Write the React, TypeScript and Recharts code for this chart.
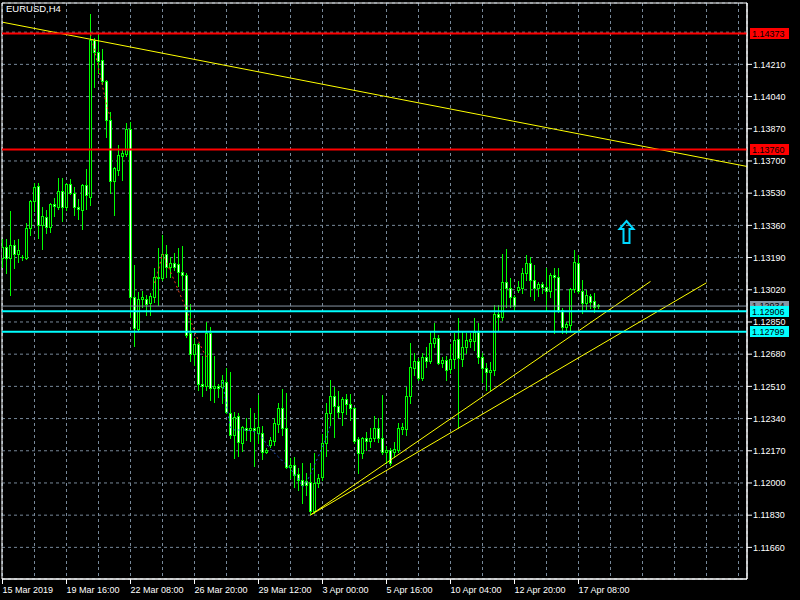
import React from 'react';
import {
  ComposedChart,
  Bar,
  Line,
  XAxis,
  YAxis,
  CartesianGrid,
  ReferenceLine,
  ReferenceDot,
  ReferenceArea,
} from 'recharts';

const FONT = '"Liberation Sans", Arial, sans-serif';

const opens = [
  1.13188, 1.13246, 1.13188, 1.13256, 1.13209, 1.13193, 1.13188, 1.13346, 1.13489, 1.13568,
  1.13362, 1.13404, 1.13351, 1.13472, 1.13457, 1.13542, 1.13457, 1.13578, 1.13531, 1.13457,
  1.13441, 1.13573, 1.1351, 1.14339, 1.14275, 1.14233, 1.14123, 1.13916, 1.13594, 1.13652,
  1.13726, 1.13737, 1.13869, 1.12982, 1.12813, 1.12971, 1.12971, 1.1295, 1.12982, 1.13088,
  1.13082, 1.13209, 1.1314, 1.13161, 1.13156, 1.13114, 1.13098, 1.12792, 1.12681, 1.12734,
  1.12525, 1.12514, 1.12792, 1.12501, 1.12514, 1.12507, 1.12533, 1.12369, 1.12253, 1.12353,
  1.12211, 1.12291, 1.1228, 1.12291, 1.12264, 1.12264, 1.12164, 1.122, 1.12222, 1.12311,
  1.12398, 1.12291, 1.12084, 1.12095, 1.12047, 1.12016, 1.1201, 1.12005, 1.11852, 1.12,
  1.12031, 1.12211, 1.12369, 1.12459, 1.12406, 1.12375, 1.12443, 1.12417, 1.12396, 1.12232,
  1.12159, 1.12238, 1.12222, 1.12238, 1.12291, 1.12238, 1.12164, 1.12174, 1.12164, 1.12174,
  1.12285, 1.12285, 1.12459, 1.12607, 1.12644, 1.12554, 1.12665, 1.12644, 1.12739, 1.12766,
  1.12634, 1.1265, 1.12602, 1.12655, 1.1276, 1.12655, 1.12718, 1.12749, 1.12749, 1.12797,
  1.12665, 1.12607, 1.12586, 1.12596, 1.12892, 1.12876, 1.13061, 1.13029, 1.12982, 1.13019,
  1.1303, 1.13109, 1.13161, 1.13072, 1.13029, 1.1305, 1.13035, 1.13014, 1.13098, 1.13088,
  1.12913, 1.12823, 1.12834, 1.13024, 1.13161, 1.13014, 1.1295, 1.12987, 1.12961, 1.12939,
];
const highs = [
  1.13288, 1.13288, 1.13436, 1.13283, 1.13288, 1.13204, 1.13372, 1.13494, 1.13584, 1.13584,
  1.13457, 1.13441, 1.13478, 1.13505, 1.1361, 1.1361, 1.13584, 1.13605, 1.13563, 1.13499,
  1.13578, 1.13658, 1.14476, 1.14349, 1.14365, 1.14291, 1.14128, 1.13959, 1.13668, 1.13784,
  1.13763, 1.13901, 1.13906, 1.13151, 1.13008, 1.13014, 1.12992, 1.13003, 1.13135, 1.13241,
  1.13309, 1.13256, 1.13193, 1.13214, 1.13241, 1.13251, 1.13109, 1.12945, 1.12766, 1.12739,
  1.1267, 1.12848, 1.12823, 1.1267, 1.1252, 1.1257, 1.12607, 1.12586, 1.12375, 1.12369,
  1.123, 1.12343, 1.12398, 1.12371, 1.12464, 1.12301, 1.12185, 1.12243, 1.12343, 1.12424,
  1.12496, 1.12475, 1.12132, 1.12137, 1.12079, 1.12106, 1.12052, 1.12106, 1.12159, 1.12047,
  1.12259, 1.12422, 1.12544, 1.12507, 1.12486, 1.12454, 1.1247, 1.1247, 1.12401, 1.12243,
  1.12243, 1.12269, 1.12291, 1.12353, 1.12343, 1.12464, 1.12195, 1.12185, 1.12217, 1.12317,
  1.12317, 1.12507, 1.12739, 1.12686, 1.1266, 1.12686, 1.12718, 1.12797, 1.12845, 1.12781,
  1.12665, 1.1267, 1.12734, 1.12792, 1.12871, 1.12797, 1.12792, 1.12792, 1.12871, 1.12845,
  1.12686, 1.12634, 1.12639, 1.1294, 1.1294, 1.13209, 1.13235, 1.13082, 1.12992, 1.13066,
  1.13135, 1.13204, 1.13193, 1.13151, 1.13061, 1.13061, 1.13135, 1.13109, 1.13135, 1.13135,
  1.12924, 1.12848, 1.13029, 1.1323, 1.13204, 1.13072, 1.13019, 1.12997, 1.13003, 1.12945,
];
const lows = [
  1.1314, 1.13109, 1.12992, 1.13135, 1.13167, 1.13177, 1.13185, 1.13309, 1.13434, 1.13293,
  1.13235, 1.1332, 1.13325, 1.1341, 1.13446, 1.13383, 1.13441, 1.13525, 1.13415, 1.13393,
  1.13341, 1.13446, 1.13468, 1.14091, 1.14165, 1.14107, 1.13827, 1.13531, 1.13415, 1.13626,
  1.136, 1.13727, 1.12876, 1.12723, 1.12808, 1.12929, 1.12887, 1.12887, 1.12955, 1.1294,
  1.13072, 1.13088, 1.13088, 1.13124, 1.1304, 1.13019, 1.12771, 1.12644, 1.12623, 1.12491,
  1.12459, 1.12491, 1.12438, 1.12428, 1.12454, 1.12422, 1.12369, 1.12238, 1.12132, 1.12142,
  1.12168, 1.12227, 1.12222, 1.12089, 1.12211, 1.12127, 1.12159, 1.1219, 1.122, 1.12269,
  1.12253, 1.1208, 1.12026, 1.11979, 1.11963, 1.11892, 1.11936, 1.11835, 1.11841, 1.11979,
  1.12016, 1.12142, 1.12306, 1.12243, 1.12348, 1.12306, 1.12364, 1.12332, 1.12211, 1.12052,
  1.12132, 1.12174, 1.1219, 1.12222, 1.12217, 1.12153, 1.12106, 1.12095, 1.12137, 1.12164,
  1.12259, 1.12253, 1.12422, 1.1257, 1.12544, 1.12544, 1.12612, 1.12634, 1.12718, 1.1263,
  1.12612, 1.12544, 1.12581, 1.12607, 1.12291, 1.12617, 1.12686, 1.12718, 1.12702, 1.12634,
  1.12533, 1.12491, 1.12491, 1.1257, 1.12802, 1.1286, 1.12929, 1.12929, 1.12913, 1.13008,
  1.13003, 1.13072, 1.12987, 1.12966, 1.12987, 1.13003, 1.12913, 1.12982, 1.12792, 1.12903,
  1.12792, 1.12792, 1.12808, 1.13008, 1.13003, 1.12897, 1.12918, 1.12924, 1.12903, 1.12924,
];
const closes = [
  1.13246, 1.13188, 1.13256, 1.13209, 1.1323, 1.13195, 1.13346, 1.13489, 1.13563, 1.13362,
  1.1341, 1.13351, 1.13472, 1.13462, 1.13542, 1.13457, 1.13578, 1.13531, 1.13457, 1.13446,
  1.13573, 1.1352, 1.14339, 1.14275, 1.14228, 1.14123, 1.13916, 1.13594, 1.13663, 1.13732,
  1.13742, 1.13869, 1.12982, 1.12818, 1.12971, 1.12982, 1.12945, 1.12987, 1.13088, 1.13082,
  1.13209, 1.1314, 1.13161, 1.1314, 1.13114, 1.13098, 1.12781, 1.12681, 1.12734, 1.12525,
  1.12514, 1.12792, 1.12501, 1.12514, 1.12501, 1.12544, 1.12375, 1.12253, 1.12348, 1.12217,
  1.12296, 1.1228, 1.12291, 1.1228, 1.12296, 1.12164, 1.12174, 1.12227, 1.12317, 1.12398,
  1.12291, 1.12084, 1.12095, 1.12042, 1.12016, 1.11989, 1.11989, 1.11852, 1.12, 1.12026,
  1.12211, 1.12369, 1.12459, 1.12406, 1.12375, 1.12443, 1.12417, 1.12396, 1.12222, 1.12159,
  1.12238, 1.12222, 1.12238, 1.12291, 1.12238, 1.12164, 1.12174, 1.12106, 1.12179, 1.12291,
  1.12296, 1.12459, 1.12612, 1.12644, 1.12554, 1.12665, 1.12644, 1.12739, 1.12766, 1.12634,
  1.1265, 1.12596, 1.12655, 1.12755, 1.1266, 1.12718, 1.12755, 1.1276, 1.12797, 1.12665,
  1.12607, 1.12586, 1.12596, 1.12892, 1.12876, 1.13061, 1.13029, 1.12982, 1.12934, 1.13035,
  1.13109, 1.13161, 1.13072, 1.13029, 1.1305, 1.13035, 1.13014, 1.13098, 1.13088, 1.12913,
  1.12823, 1.12839, 1.13024, 1.13167, 1.13014, 1.1295, 1.12992, 1.12955, 1.12929, 1.12934,
];

// dotted indicator segments
const redIndicator: [number, number][] = [
  [22, 1.1437], [23, 1.14286], [24, 1.14191], [25, 1.14096], [26, 1.13996], [27, 1.13927],
];
const redIndicator2: [number, number][] = [
  [38, 1.13056], [39, 1.13124], [40, 1.13209], [41, 1.13167], [42, 1.13114], [43, 1.13066],
  [44, 1.13014], [45, 1.12966], [46, 1.12913], [47, 1.1286], [48, 1.12802], [49, 1.1275],
  [50, 1.12702], [51, 1.12665],
];
const blueIndicator: [number, number][] = [
  [55, 1.12533], [56, 1.12412], [57, 1.1229], [58, 1.1228], [59, 1.1228], [60, 1.1228],
  [61, 1.1228], [62, 1.12275], [63, 1.1227], [64, 1.12259], [65, 1.12237], [66, 1.12206],
  [67, 1.12179], [68, 1.12158], [69, 1.12137], [70, 1.12116], [71, 1.12095], [72, 1.12074],
  [73, 1.12047], [74, 1.12021], [75, 1.11979], [76, 1.12005], [77, 1.12047], [78, 1.12095],
  [79, 1.12142], [80, 1.1219], [81, 1.12243], [82, 1.12306],
];

const xTicks = [0, 8, 16, 24, 32, 40, 48, 56, 64, 72, 80, 88, 96, 104, 112, 120, 128, 136, 144, 152, 160, 168, 176, 184];
const xTickLabels = [
  '15 Mar 2019', '19 Mar 16:00', '22 Mar 08:00', '26 Mar 20:00', '29 Mar 12:00',
  '3 Apr 00:00', '5 Apr 16:00', '10 Apr 04:00', '12 Apr 20:00', '17 Apr 08:00',
];
const yTicks = [
  1.1166, 1.1183, 1.12, 1.1217, 1.1234, 1.1251, 1.1268, 1.1285,
  1.1302, 1.1319, 1.1336, 1.1353, 1.137, 1.1387, 1.1404, 1.1421,
];
const topGridPrice = 1.1438;

const redLevels = [1.14373, 1.1376];
const cyanLevels = [1.12906, 1.12799];
const bidLevel = 1.12934;

const downTrend = [{ x: 0.125, y: 1.14432 }, { x: 186.125, y: 1.13671 }];
const upTrend1 = [{ x: 77, y: 1.11831 }, { x: 162, y: 1.13064 }];
const upTrend2 = [{ x: 77, y: 1.11831 }, { x: 176, y: 1.13057 }];
const arrowPoint = { x: 156, y: 1.13325 };

const X_DOMAIN: [number, number] = [-0.125, 186.125];
const Y_DOMAIN: [number, number] = [1.11493, 1.14534];

const toMap = (pairs: [number, number][]) => new Map(pairs.map(([k, v]) => [k, v]));
const redMap = toMap(redIndicator);
const redMap2 = toMap(redIndicator2);
const blueMap = toMap(blueIndicator);

const data = opens.map((o, i) => ({
  i,
  o,
  h: highs[i],
  l: lows[i],
  c: closes[i],
  range: [lows[i], highs[i]],
  red: redMap.has(i) ? redMap.get(i) : null,
  red2: redMap2.has(i) ? redMap2.get(i) : null,
  blue: blueMap.has(i) ? blueMap.get(i) : null,
}));

const Candle = (props: any) => {
  const { x, y, width, height, payload } = props;
  if (x == null || y == null || !payload) return null;
  const { o, h, l, c } = payload;
  const top = Math.min(y, y + height);
  const bottom = Math.max(y, y + height);
  const span = h - l || 1e-9;
  const py = (v: number) => top + ((h - v) / span) * (bottom - top);
  const cx = Math.floor(x + width / 2) + 0.5;
  const bTop = Math.round(py(Math.max(o, c)));
  const bBot = Math.round(py(Math.min(o, c)));
  const bull = c > o;
  return (
    <g shapeRendering="crispEdges">
      <line x1={cx} x2={cx} y1={Math.round(top)} y2={Math.round(bottom) + 1} stroke="#00ff00" strokeWidth={1} />
      {bBot - bTop < 1 ? (
        <line x1={cx - 1.5} x2={cx + 1.5} y1={bTop + 0.5} y2={bTop + 0.5} stroke="#00ff00" strokeWidth={1} />
      ) : (
        <rect
          x={cx - 1}
          y={bTop + 0.5}
          width={2}
          height={bBot - bTop}
          fill={bull ? '#000000' : '#ffffff'}
          stroke="#00ff00"
          strokeWidth={1}
        />
      )}
    </g>
  );
};

const XTick = (props: any) => {
  const { x, y, payload } = props;
  const v = payload.value;
  if (v % 16 !== 0) return null;
  const label = xTickLabels[v / 16];
  if (!label) return null;
  const px = Math.floor(x) + 0.5;
  return (
    <g>
      <line x1={px} x2={px} y1={y} y2={y + 5} stroke="#ffffff" shapeRendering="crispEdges" />
      <text x={px} y={y + 14} fill="#ffffff" fontSize={9} fontFamily={FONT} textAnchor="start">
        {label}
      </text>
    </g>
  );
};

const PriceTag = (props: any) => {
  const { viewBox, text, bg, fg } = props;
  if (!viewBox) return null;
  const x0 = viewBox.x + viewBox.width + 3;
  const yy = viewBox.y;
  return (
    <g>
      <rect x={x0} y={yy - 5.5} width={39} height={11} fill={bg} shapeRendering="crispEdges" />
      <text x={x0 + 2} y={yy} dy="0.355em" fontSize={9} fontFamily={FONT} fill={fg}>
        {text}
      </text>
    </g>
  );
};

const Arrow = (props: any) => {
  const { cx, cy } = props;
  if (cx == null || cy == null) return null;
  const d = `M ${cx} ${cy - 11} L ${cx + 7} ${cy - 3} L ${cx + 3} ${cy - 3} L ${cx + 3} ${cy + 11} L ${cx - 3} ${cy + 11} L ${cx - 3} ${cy - 3} L ${cx - 7} ${cy - 3} Z`;
  return <path d={d} fill="none" stroke="#00d8ff" strokeWidth={2} strokeLinejoin="miter" />;
};

export default function App() {
  return (
    <div style={{ position: 'absolute', left: 0, top: 0, width: 800, height: 600, background: '#000000' }}>
      <ComposedChart
        width={800}
        height={600}
        data={data}
        margin={{ top: 3, right: 0, bottom: 0, left: 2 }}
        style={{ background: '#000000' }}
      >
        <CartesianGrid stroke="#778899" strokeDasharray="3 3" />
        <XAxis
          type="number"
          dataKey="i"
          domain={X_DOMAIN}
          allowDataOverflow
          ticks={xTicks}
          interval={0}
          tick={(p: any) => <XTick {...p} />}
          tickLine={false}
          tickSize={0}
          tickMargin={0}
          axisLine={{ stroke: '#ffffff' }}
          height={21}
        />
        <YAxis
          orientation="right"
          type="number"
          domain={Y_DOMAIN}
          allowDataOverflow
          ticks={yTicks}
          interval={0}
          width={53}
          tickSize={5}
          tickMargin={1}
          tickLine={{ stroke: '#ffffff' }}
          axisLine={{ stroke: '#ffffff' }}
          tick={{ fill: '#ffffff', fontSize: 9, fontFamily: FONT }}
          tickFormatter={(v: number) => v.toFixed(5)}
        />
        <ReferenceLine y={topGridPrice} stroke="#778899" strokeDasharray="3 3" />
        <Bar dataKey="range" barSize={3} shape={<Candle />} isAnimationActive={false} />
        <Line dataKey="red" stroke="#e8441c" strokeDasharray="2 3" dot={false} connectNulls={false} isAnimationActive={false} />
        <Line dataKey="red2" stroke="#e8441c" strokeDasharray="2 3" dot={false} connectNulls={false} isAnimationActive={false} />
        <Line dataKey="blue" stroke="#2a5cd8" strokeDasharray="2 3" dot={false} connectNulls={false} isAnimationActive={false} />
        <ReferenceLine segment={downTrend} stroke="#ffff00" strokeWidth={1} ifOverflow="visible" />
        <ReferenceLine segment={upTrend1} stroke="#ffff00" strokeWidth={1} ifOverflow="visible" />
        <ReferenceLine segment={upTrend2} stroke="#ffff00" strokeWidth={1} ifOverflow="visible" />
        <ReferenceLine
          y={bidLevel}
          stroke="#8796a5"
          strokeWidth={1}
          label={<PriceTag text={bidLevel.toFixed(5)} bg="#8796a5" fg="#000000" />}
        />
        {redLevels.map((v) => (
          <ReferenceLine
            key={'r' + v}
            y={v}
            stroke="#ff0000"
            strokeWidth={2}
            label={<PriceTag text={v.toFixed(5)} bg="#ff0000" fg="#000000" />}
          />
        ))}
        {cyanLevels.map((v) => (
          <ReferenceLine
            key={'c' + v}
            y={v}
            stroke="#00ffff"
            strokeWidth={2}
            label={<PriceTag text={v.toFixed(5)} bg="#00ffff" fg="#000000" />}
          />
        ))}
        <ReferenceDot x={arrowPoint.x} y={arrowPoint.y} shape={<Arrow />} ifOverflow="visible" />
        <ReferenceArea x1={X_DOMAIN[0]} x2={X_DOMAIN[1]} y1={Y_DOMAIN[0]} y2={Y_DOMAIN[1]} fill="none" fillOpacity={0} stroke="#ffffff" ifOverflow="visible" />
      </ComposedChart>
      <div
        style={{
          position: 'absolute',
          left: 6,
          top: 3,
          color: '#ffffff',
          fontSize: 9.5,
          fontFamily: FONT,
          lineHeight: '12px',
          pointerEvents: 'none',
        }}
      >
        EURUSD,H4
      </div>
    </div>
  );
}
